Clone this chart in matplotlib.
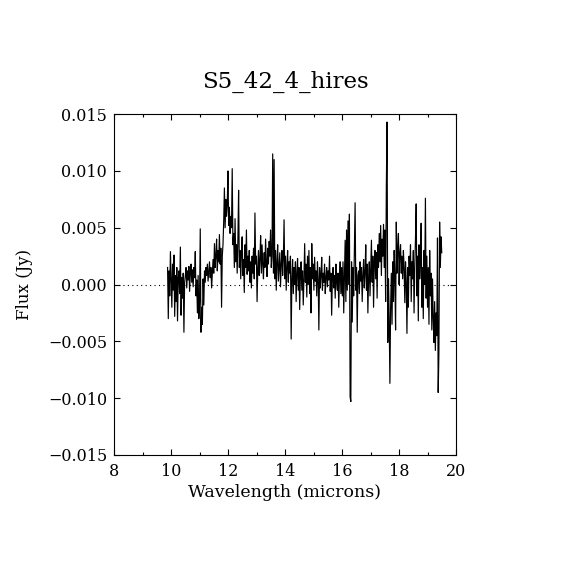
import numpy as np
import matplotlib
matplotlib.use("Agg")
import matplotlib.pyplot as plt
from matplotlib.ticker import MultipleLocator, FuncFormatter

title = "S5_42_4_hires"
xlabel = "Wavelength (microns)"
ylabel = "Flux (Jy)"

wave_start = 9.88
wave_end = 19.50

# flux values in mJy (uniform wavelength sampling)
flux_mjy = [
    # 9.88 - 10.5
    1.5, -3.0, 1.2, -1.0, 2.9, 0.3, -2.0, 1.8, -0.5, 2.6, -2.8, 0.8, -1.5, 1.5, -3.2, 0.5,
    1.2, -0.8, 3.3, -2.7, 0.6, -1.2, 1.0, -4.2, 0.2,
    # 10.5 - 11.0
    0.8, 1.5, -0.3, 1.2, 0.4, 1.6, -0.6, 1.0, 1.8, 0.2, 1.3, -0.2, 1.5, 0.6, 2.9, -1.0,
    0.4, -2.5, 0.8, -3.0,
    # 11.0 - 11.5
    -1.5, 4.9, -4.2, -2.0, -3.5, 0.5, -1.8, 1.2, 0.2, 1.5, 0.8, 1.8, 0.3, 1.2, 2.0, 0.6,
    1.5, -0.3, 1.0, 2.2,
    # 11.5 - 11.85
    1.0, 3.6, 1.5, 2.5, 4.0, 1.2, 3.0, 2.0, 4.4, 1.8, 3.2, -2.0, 2.5, 3.5,
    # 11.85 - 12.2
    5.5, 8.5, 5.0, 7.5, 6.0, 7.0, 10.0, 5.2, 6.8, 4.5, 6.0, 5.0, 10.2, 3.5,
    # 12.2 - 13.0
    4.5, 1.5, 5.8, 2.0, 3.5, 1.0, 4.0, 8.3, 1.5, 3.0, 0.5, 2.8, 4.2, 0.8, 2.2, -0.7,
    3.5, 1.5, 4.8, 0.9, 2.5, 1.2, 3.0, 0.2, 2.0, -0.3, 2.5, 1.0, 3.2, 0.5, 6.3, 1.8,
    # 13.0 - 13.5
    2.5, -1.5, 1.5, 3.0, 0.8, 2.2, 4.3, 1.0, 3.5, 1.8, 0.5, 2.8, 1.5, 4.0, 2.0, 0.7,
    3.2, 1.8, 3.8, 2.5,
    # 13.5 - 14.0
    4.8, 1.5, 2.5, 11.5, 1.0, 11.0, 0.5, 3.0, -0.5, 2.0, 3.5, 0.3, 1.5, 2.8, -0.2, 1.8,
    3.0, 0.8, 2.2, 5.7,
    # 14.0 - 14.5
    0.5, 2.5, -0.5, 1.5, 3.0, 0.2, 2.0, 1.0, 2.5, -4.8, 0.5, 2.2, -0.8, 1.5, 0.0, 2.0,
    -1.5, 1.0, 2.3, -0.5,
    # 14.5 - 15.0
    1.5, -2.2, 0.8, 2.0, -0.5, 1.2, -1.8, 0.5, 3.6, 0.2, 1.8, -1.1, 2.5, 0.0, 3.0, -0.8,
    1.5, -2.5, 3.6, 0.5,
    # 15.0 - 15.5
    1.8, -0.5, 2.4, 0.3, 1.2, -1.0, 2.0, 0.5, -4.0, 1.5, -0.3, 0.8, 2.4, -0.5, 1.0, 0.2,
    1.8, -0.8, 0.6, 1.5,
    # 15.5 - 16.0
    -0.2, 1.2, 0.4, 2.5, -0.6, 1.0, -2.7, 0.5, 1.5, -0.3, 0.8, -1.2, 1.8, 0.2, -0.5, 1.0,
    -2.0, 0.6, 2.0, -0.8,
    # 16.0 - 16.6
    1.5, -1.0, 2.0, -2.5, 0.5, 3.9, -1.5, 4.8, -0.5, 5.6, 0.0, 6.2, -9.9, -10.3, 2.0, -3.3,
    1.5, -1.0, 3.0, 7.2, -0.5, 1.5, -4.2, 0.8,
    # 16.6 - 17.0
    1.2, -0.8, 2.0, 0.3, 1.5, -1.5, 0.8, 2.2, -0.3, 1.0, 3.5, -0.5, 1.8, -2.5, 0.6, 2.0,
    # 17.0 - 17.6
    -1.0, 1.5, 3.9, 0.2, 2.5, -2.0, 1.8, 3.0, 0.5, 2.8, -1.2, 3.5, 1.5, 4.5, 2.0, 5.2,
    0.8, 4.0, 2.5, 5.3, 1.5, 4.8, -1.5, 8.7,
    # 17.6 - 17.75
    14.3, -5.1, 0.5, -3.0, -8.7, -2.0, 1.0,
    # 17.75 - 18.0
    -3.5, 2.0, -1.5, 3.0, 0.5, -4.0, 5.5, 1.0, 3.2,
    # 18.0 - 18.5
    4.5, 0.0, 2.8, 3.5, 1.0, 2.5, 0.5, 3.0, 1.5, -1.6, 2.0, 0.2, -4.3, 1.5, -2.0, 2.5,
    0.8, 3.5, -1.5, 2.0,
    # 18.5 - 19.0
    0.5, 3.0, -2.5, 1.5, 4.0, 7.1, -1.0, 2.5, -3.2, 3.5, 0.5, 2.0, 5.4, -2.0, 1.5, -3.0,
    3.0, 0.0, 7.6, -1.2,
    # 19.0 - 19.5
    2.5, -2.0, 1.5, -3.5, 3.0, -1.0, 1.0, -4.0, 0.5, -3.0, -5.1, -1.5, -5.8, -2.5, -4.5, 4.1,
    -9.5, -6.0, 5.5, 1.5, 4.2, 2.8,
]

flux = np.array(flux_mjy) * 1e-3
wave = np.linspace(wave_start, wave_end, len(flux))

xlim = (8, 20)
ylim = (-0.015, 0.015)

plt.rcParams['font.family'] = ['DejaVu Serif']

fig = plt.figure(figsize=(5.7, 5.7), dpi=100)
ax = fig.add_axes([0.2, 0.2018, 0.6, 0.598])

ax.plot(xlim, [0, 0], color='black', linewidth=0.8, linestyle=(0, (1, 3)))
ax.plot(wave, flux, color='black', linewidth=0.85)

ax.set_xlim(*xlim)
ax.set_ylim(*ylim)
ax.xaxis.set_major_locator(MultipleLocator(2))
ax.xaxis.set_minor_locator(MultipleLocator(1))
ax.yaxis.set_major_locator(MultipleLocator(0.005))
ax.yaxis.set_major_formatter(FuncFormatter(lambda v, p: ("%.3f" % v).replace('-', '\u2212') if abs(v) > 1e-9 else "0.000"))
ax.tick_params(which='both', direction='in', top=True, right=True, labelsize=11.5, width=0.8)
ax.tick_params(axis='x', which='both', pad=6)
ax.tick_params(axis='y', which='both', pad=5)
ax.tick_params(which='major', length=4.3)
ax.tick_params(which='minor', length=2.2)
for s in ax.spines.values():
    s.set_linewidth(0.8)

ax.set_title(title, fontsize=16.5, pad=19)
ax.set_xlabel(xlabel, fontsize=12.5, labelpad=3)
ax.set_ylabel(ylabel, fontsize=12, labelpad=11)

fig.savefig("out.png", dpi=100, facecolor='white')
